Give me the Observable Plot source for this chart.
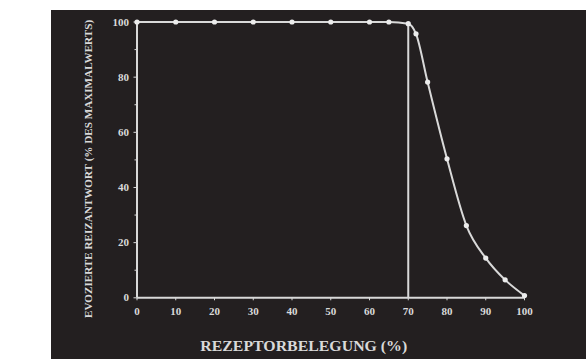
<!DOCTYPE html>
<html>
<head>
<meta charset="utf-8">
<script src="https://cdn.jsdelivr.net/npm/d3@7"></script>
<script src="https://cdn.jsdelivr.net/npm/@observablehq/plot@0.6"></script>
<style>
  html, body { margin: 0; padding: 0; background: #ffffff; width: 586px; height: 359px; overflow: hidden; }
  #panel { position: absolute; left: 51px; top: 10px; width: 535px; height: 349px; background: #231f20; }
  #panel svg { display: block; overflow: visible; }
</style>
</head>
<body>
<div id="panel"></div>
<script>
// Data
const occupancy = [0, 10, 20, 30, 40, 50, 60, 65, 70, 72, 75, 80, 85, 90, 95, 100];
const response  = [100, 100, 100, 100, 100, 100, 100, 100, 99.4, 95.7, 78.2, 50.4, 26.2, 14.4, 6.5, 0.8];
const thresholdX = [70];
const xTicks = [0, 10, 20, 30, 40, 50, 60, 70, 80, 90, 100];
const yTicks = [0, 20, 40, 60, 80, 100];
const yMinorTicks = [10, 30, 50, 70, 90];
const xLabel = "REZEPTORBELEGUNG (%)";
const yLabel = "EVOZIERTE REIZANTWORT (% DES MAXIMALWERTS)";

const data = occupancy.map((x, i) => ({x, y: response[i]}));
const fg = "#d9d9d9";

const chart = Plot.plot({
  width: 535,
  height: 349,
  marginLeft: 85.5,
  marginRight: 62,
  marginTop: 11.5,
  marginBottom: 61.7,
  style: {background: "transparent", color: fg, fontFamily: "'Liberation Serif', 'DejaVu Serif', serif", fontWeight: "bold", fontSize: "10px", overflow: "visible"},
  x: {domain: [0, 100]},
  y: {domain: [0, 100]},
  marks: [
    Plot.axisX({ticks: xTicks, tickSize: 3, tickPadding: 6, label: null, stroke: fg, fill: fg, fontSize: 11, fontWeight: "bold"}),
    Plot.axisY({ticks: yTicks, tickSize: 3, tickPadding: 5, label: null, stroke: fg, fill: fg, fontSize: 11, fontWeight: "bold"}),
    Plot.axisY({ticks: yMinorTicks, tickSize: 2, tickFormat: () => "", label: null, stroke: fg}),
    Plot.ruleY([0], {x1: 0, x2: 100, stroke: fg, strokeWidth: 2}),
    Plot.ruleX([0], {y1: 0, y2: 100, stroke: fg, strokeWidth: 2}),
    Plot.ruleX(thresholdX, {y1: 0, y2: 99.4, stroke: fg, strokeWidth: 2}),
    Plot.line(data, {x: "x", y: "y", curve: "monotone-x", stroke: fg, strokeWidth: 2}),
    Plot.dot(data, {x: "x", y: "y", r: 2.6, fill: "#ececec", stroke: null}),
    Plot.text([xLabel], {frameAnchor: "bottom", textAnchor: "middle", dx: -27, dy: 48, fill: fg, fontSize: 15, fontWeight: "bold", lineAnchor: "middle"}),
    Plot.text([yLabel], {frameAnchor: "left", textAnchor: "middle", dx: -48.5, dy: 9, rotate: -90, fill: fg, fontSize: 11, fontWeight: "bold", lineAnchor: "middle"})
  ]
});
document.getElementById("panel").appendChild(chart);
// fit the axis titles to the lengths seen in the reference
chart.querySelectorAll("text").forEach(t => {
  if (t.textContent === yLabel) { t.setAttribute("textLength", 298); t.setAttribute("lengthAdjust", "spacingAndGlyphs"); }
  if (t.textContent === xLabel) { t.setAttribute("textLength", 207); t.setAttribute("lengthAdjust", "spacingAndGlyphs"); }
});
</script>
</body>
</html>
